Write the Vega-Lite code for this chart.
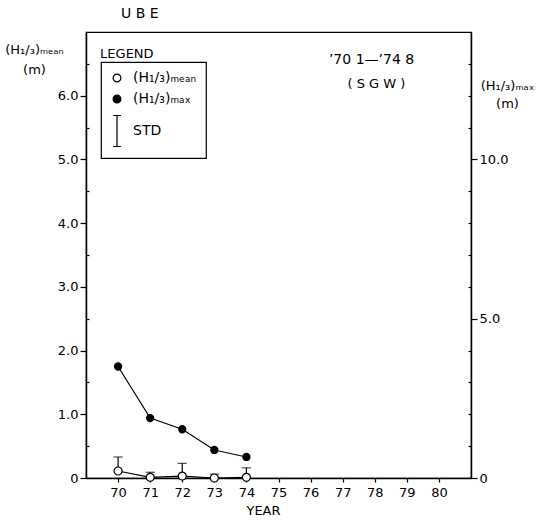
{
  "$schema": "https://vega.github.io/schema/vega-lite/v6.json",
  "width": 385,
  "height": 446,
  "autosize": {"type": "none"},
  "padding": {"left": 86, "top": 32, "right": 71, "bottom": 44},
  "background": "white",
  "title": {"text": "U B E", "anchor": "start", "frame": "group", "dx": 35, "offset": 11, "fontSize": 14, "font": "DejaVu Sans", "fontWeight": "normal", "color": "black"},
  "config": {
    "font": "DejaVu Sans",
    "view": {"stroke": "black", "strokeWidth": 1.2},
    "axis": {"domainColor": "black", "domainWidth": 1.5, "tickColor": "black", "tickWidth": 1.2, "labelColor": "black", "titleColor": "black", "grid": false, "labelFontSize": 13, "titleFontSize": 13, "titleFontWeight": "normal", "labelFont": "DejaVu Sans", "titleFont": "DejaVu Sans"},
    "axisX": {"labelOverlap": false, "tickSize": 4, "labelPadding": 4},
    "legend": {"orient": "none", "legendX": 15, "legendY": 30, "strokeColor": "black", "strokeWidth": 1.2, "padding": 9, "labelFontSize": 14, "labelColor": "black", "labelFont": "DejaVu Sans", "symbolStrokeWidth": 1.2, "symbolSize": 60, "rowPadding": 7, "labelOffset": 9}
  },
  "data": {"values": [
    {"year": 70, "kind": "mean", "series": "(H₁/₃)ₘₑₐₙ", "value": 0.11, "top": 0.33},
    {"year": 71, "kind": "mean", "series": "(H₁/₃)ₘₑₐₙ", "value": 0.01, "top": 0.09},
    {"year": 72, "kind": "mean", "series": "(H₁/₃)ₘₑₐₙ", "value": 0.03, "top": 0.23},
    {"year": 73, "kind": "mean", "series": "(H₁/₃)ₘₑₐₙ", "value": 0.0, "top": 0.06},
    {"year": 74, "kind": "mean", "series": "(H₁/₃)ₘₑₐₙ", "value": 0.01, "top": 0.16},
    {"year": 70, "kind": "max", "series": "(H₁/₃)ₘₐₓ", "value": 3.5},
    {"year": 71, "kind": "max", "series": "(H₁/₃)ₘₐₓ", "value": 1.88},
    {"year": 72, "kind": "max", "series": "(H₁/₃)ₘₐₓ", "value": 1.53},
    {"year": 73, "kind": "max", "series": "(H₁/₃)ₘₐₓ", "value": 0.88},
    {"year": 74, "kind": "max", "series": "(H₁/₃)ₘₐₓ", "value": 0.66}
  ]},
  "layer": [
    {
      "transform": [{"filter": "datum.kind == 'mean'"}],
      "mark": {"type": "rule", "color": "black", "strokeWidth": 1.2},
      "encoding": {
        "x": {"field": "year", "type": "quantitative", "scale": {"domain": [69, 81], "nice": false},
          "axis": {"values": [70, 71, 72, 73, 74, 75, 76, 77, 78, 79, 80], "labelOverlap": false, "tickSize": 4, "labelPadding": 4, "title": "YEAR", "titleX": 177, "titleY": 26, "titleAlign": "center", "titleBaseline": "top"}},
        "y": {"field": "value", "type": "quantitative", "scale": {"domain": [0, 7], "nice": false}, "axis": null},
        "y2": {"field": "top"}
      }
    },
    {
      "transform": [{"filter": "datum.kind == 'mean'"}],
      "mark": {"type": "tick", "orient": "horizontal", "color": "black", "size": 9, "thickness": 1.2},
      "encoding": {
        "x": {"field": "year", "type": "quantitative", "scale": {"domain": [69, 81], "nice": false},
          "axis": {"values": [70, 71, 72, 73, 74, 75, 76, 77, 78, 79, 80], "labelOverlap": false, "tickSize": 4, "labelPadding": 4, "title": "YEAR", "titleX": 177, "titleY": 26, "titleAlign": "center", "titleBaseline": "top"}},
        "y": {"field": "top", "type": "quantitative", "scale": {"domain": [0, 7], "nice": false}, "axis": null}
      }
    },
    {
      "transform": [{"filter": "datum.kind == 'mean'"}],
      "mark": {"type": "line", "color": "black", "strokeWidth": 1.2},
      "encoding": {
        "x": {"field": "year", "type": "quantitative", "scale": {"domain": [69, 81], "nice": false},
          "axis": {"values": [70, 71, 72, 73, 74, 75, 76, 77, 78, 79, 80], "labelOverlap": false, "tickSize": 4, "labelPadding": 4, "title": "YEAR", "titleX": 177, "titleY": 26, "titleAlign": "center", "titleBaseline": "top"}},
        "y": {"field": "value", "type": "quantitative", "scale": {"domain": [0, 7], "nice": false}, "axis": null}
      }
    },
    {
      "transform": [{"filter": "datum.kind == 'mean'"}],
      "mark": {"type": "point", "filled": true, "strokeWidth": 1.2, "size": 64, "opacity": 1},
      "encoding": {
        "x": {"field": "year", "type": "quantitative", "scale": {"domain": [69, 81], "nice": false},
          "axis": {"values": [70, 71, 72, 73, 74, 75, 76, 77, 78, 79, 80], "labelOverlap": false, "tickSize": 4, "labelPadding": 4, "title": "YEAR", "titleX": 177, "titleY": 26, "titleAlign": "center", "titleBaseline": "top"}},
        "y": {"field": "value", "type": "quantitative", "scale": {"domain": [0, 7], "nice": false},
          "axis": {"orient": "left", "values": [0, 0.5, 1, 1.5, 2, 2.5, 3, 3.5, 4, 4.5, 5, 5.5, 6, 6.5],
            "labelExpr": "datum.value % 1 ? '' : (datum.value == 0 ? '0' : format(datum.value, '.1f'))",
            "tickSize": {"condition": {"test": "datum.value % 1", "value": -3}, "value": 6},
            "labelPadding": 2,
            "title": ["(H₁/₃)ₘₑₐₙ", "(m)"], "titleAngle": 0, "titleAlign": "center", "titleBaseline": "top", "titleX": -52, "titleY": 11, "titleLineHeight": 20}},
        "shape": {"field": "series", "type": "nominal", "scale": {"domain": ["(H₁/₃)ₘₑₐₙ", "(H₁/₃)ₘₐₓ", "STD"], "range": ["circle", "circle", "M0,-4L0,4M-1,-4L1,-4M-1,4L1,4"]}, "legend": {"title": null}},
        "fill": {"field": "series", "type": "nominal", "scale": {"domain": ["(H₁/₃)ₘₑₐₙ", "(H₁/₃)ₘₐₓ", "STD"], "range": ["white", "black", "transparent"]}, "legend": {"title": null}},
        "stroke": {"field": "series", "type": "nominal", "scale": {"domain": ["(H₁/₃)ₘₑₐₙ", "(H₁/₃)ₘₐₓ", "STD"], "range": ["black", "black", "black"]}, "legend": {"title": null}}
      }
    },
    {
      "data": {"values": [{}]},
      "mark": {"type": "text", "text": "’70 1—’74 8", "fontSize": 14, "align": "center", "baseline": "middle", "color": "black"},
      "encoding": {
        "x": {"datum": 77.9, "type": "quantitative", "scale": {"domain": [69, 81], "nice": false},
          "axis": {"values": [70, 71, 72, 73, 74, 75, 76, 77, 78, 79, 80], "labelOverlap": false, "tickSize": 4, "labelPadding": 4, "title": "YEAR", "titleX": 177, "titleY": 26, "titleAlign": "center", "titleBaseline": "top"}},
        "y": {"datum": 6.56, "type": "quantitative", "scale": {"domain": [0, 7], "nice": false}, "axis": null}
      }
    },
    {
      "data": {"values": [{}]},
      "mark": {"type": "text", "text": "( S G W )", "fontSize": 13, "align": "center", "baseline": "middle", "color": "black"},
      "encoding": {
        "x": {"datum": 78.05, "type": "quantitative", "scale": {"domain": [69, 81], "nice": false},
          "axis": {"values": [70, 71, 72, 73, 74, 75, 76, 77, 78, 79, 80], "labelOverlap": false, "tickSize": 4, "labelPadding": 4, "title": "YEAR", "titleX": 177, "titleY": 26, "titleAlign": "center", "titleBaseline": "top"}},
        "y": {"datum": 6.19, "type": "quantitative", "scale": {"domain": [0, 7], "nice": false}, "axis": null}
      }
    },
    {
      "data": {"values": [{}]},
      "mark": {"type": "text", "text": "LEGEND", "fontSize": 13, "align": "left", "baseline": "middle", "color": "black"},
      "encoding": {
        "x": {"datum": 69.44, "type": "quantitative", "scale": {"domain": [69, 81], "nice": false},
          "axis": {"values": [70, 71, 72, 73, 74, 75, 76, 77, 78, 79, 80], "labelOverlap": false, "tickSize": 4, "labelPadding": 4, "title": "YEAR", "titleX": 177, "titleY": 26, "titleAlign": "center", "titleBaseline": "top"}},
        "y": {"datum": 6.66, "type": "quantitative", "scale": {"domain": [0, 7], "nice": false}, "axis": null}
      }
    },
    {
      "transform": [{"filter": "datum.kind == 'max'"}],
      "mark": {"type": "line", "color": "black", "strokeWidth": 1.2},
      "encoding": {
        "x": {"field": "year", "type": "quantitative", "scale": {"domain": [69, 81], "nice": false},
          "axis": {"values": [70, 71, 72, 73, 74, 75, 76, 77, 78, 79, 80], "labelOverlap": false, "tickSize": 4, "labelPadding": 4, "title": "YEAR", "titleX": 177, "titleY": 26, "titleAlign": "center", "titleBaseline": "top"}},
        "y": {"field": "value", "type": "quantitative", "scale": {"domain": [0, 14], "nice": false}, "axis": null}
      }
    },
    {
      "transform": [{"filter": "datum.kind == 'max'"}],
      "mark": {"type": "point", "filled": true, "strokeWidth": 1.2, "size": 50, "opacity": 1},
      "encoding": {
        "x": {"field": "year", "type": "quantitative", "scale": {"domain": [69, 81], "nice": false},
          "axis": {"values": [70, 71, 72, 73, 74, 75, 76, 77, 78, 79, 80], "labelOverlap": false, "tickSize": 4, "labelPadding": 4, "title": "YEAR", "titleX": 177, "titleY": 26, "titleAlign": "center", "titleBaseline": "top"}},
        "y": {"field": "value", "type": "quantitative", "scale": {"domain": [0, 14], "nice": false},
          "axis": {"orient": "right", "values": [0, 1, 2, 3, 4, 5, 6, 7, 8, 9, 10, 11, 12, 13],
            "labelExpr": "datum.value % 5 ? '' : (datum.value == 0 ? '0' : format(datum.value, '.1f'))",
            "tickSize": {"condition": {"test": "datum.value % 5", "value": -3}, "value": 6},
            "labelPadding": 2,
            "title": ["(H₁/₃)ₘₐₓ", "(m)"], "titleAngle": 0, "titleAlign": "center", "titleBaseline": "top", "titleX": 36, "titleY": 47, "titleLineHeight": 18}},
        "shape": {"field": "series", "type": "nominal", "scale": {"domain": ["(H₁/₃)ₘₑₐₙ", "(H₁/₃)ₘₐₓ", "STD"], "range": ["circle", "circle", "M0,-4L0,4M-1,-4L1,-4M-1,4L1,4"]}, "legend": {"title": null}},
        "fill": {"field": "series", "type": "nominal", "scale": {"domain": ["(H₁/₃)ₘₑₐₙ", "(H₁/₃)ₘₐₓ", "STD"], "range": ["white", "black", "transparent"]}, "legend": {"title": null}},
        "stroke": {"field": "series", "type": "nominal", "scale": {"domain": ["(H₁/₃)ₘₑₐₙ", "(H₁/₃)ₘₐₓ", "STD"], "range": ["black", "black", "black"]}, "legend": {"title": null}}
      }
    }
  ],
  "resolve": {"scale": {"y": "independent"}}
}
